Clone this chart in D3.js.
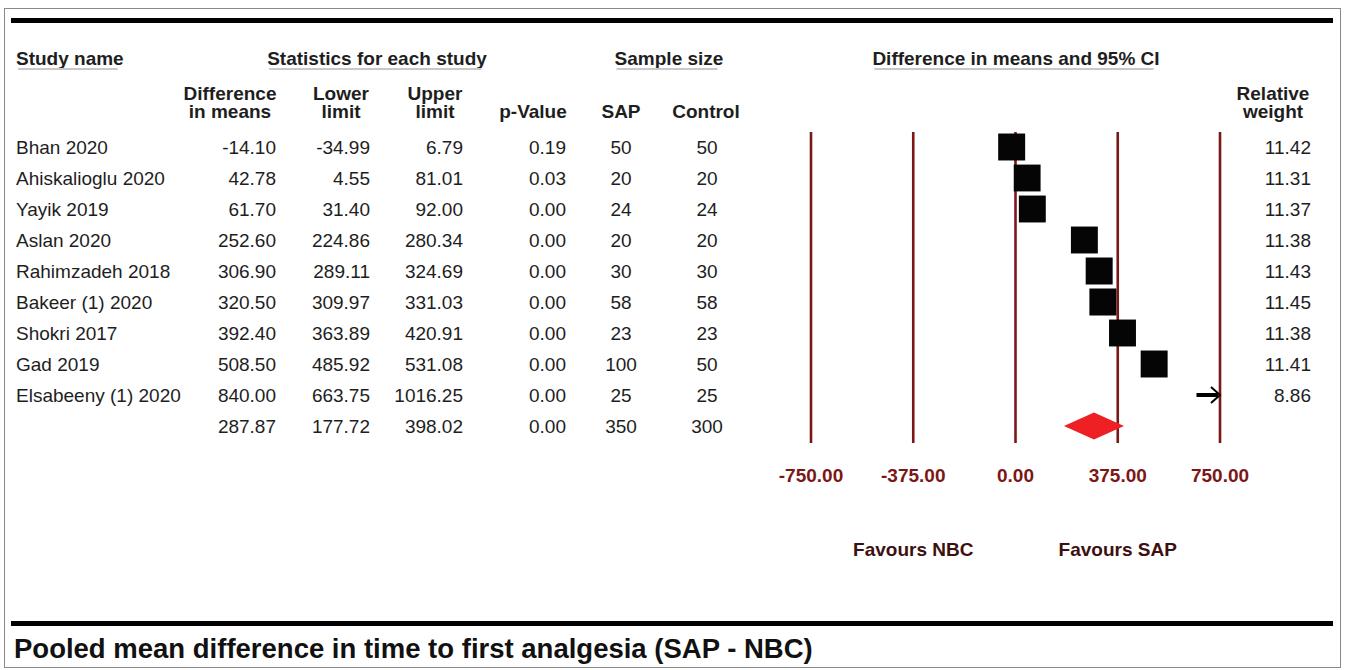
<!DOCTYPE html>
<html>
<head>
<meta charset="utf-8">
<script src="https://cdn.jsdelivr.net/npm/d3@7"></script>
<style>
  html, body { margin: 0; padding: 0; background: #fff; }
  svg { display: block; font-family: "Liberation Sans", Arial, sans-serif; }
</style>
</head>
<body>
<svg></svg>
<script>
const studies = ['Bhan 2020', 'Ahiskalioglu 2020', 'Yayik 2019', 'Aslan 2020', 'Rahimzadeh 2018',
	'Bakeer (1) 2020', 'Shokri 2017', 'Gad 2019', 'Elsabeeny (1) 2020'];
const diffs = [-14.10, 42.78, 61.70, 252.60, 306.90, 320.50, 392.40, 508.50, 840.00];
const lowers = [-34.99, 4.55, 31.40, 224.86, 289.11, 309.97, 363.89, 485.92, 663.75];
const uppers = [6.79, 81.01, 92.00, 280.34, 324.69, 331.03, 420.91, 531.08, 1016.25];
const pValues = [0.19, 0.03, 0.00, 0.00, 0.00, 0.00, 0.00, 0.00, 0.00];
const sapN = [50, 20, 24, 20, 30, 58, 23, 100, 25];
const controlN = [50, 20, 24, 20, 30, 58, 23, 50, 25];
const weights = [11.42, 11.31, 11.37, 11.38, 11.43, 11.45, 11.38, 11.41, 8.86];

const pooled = { diff: 287.87, lower: 177.72, upper: 398.02, p: 0.00, sap: 350, control: 300 };

const ticks = [-750, -375, 0, 375, 750];

const width = 1345;
const height = 670;

const svg = d3.select('svg')
	.attr('width', width)
	.attr('height', height);

const darkRed = '#7b1717';
const textCol = '#1e1e1e';
// plain hyphen for negatives, as in the source table
const fmt = v => v.toFixed(2);

// frame
svg.append('rect')
	.attr('x', 4.5).attr('y', 8.5)
	.attr('width', 1336).attr('height', 659)
	.attr('fill', 'none')
	.attr('stroke', '#8a8a8a')
	.attr('stroke-width', 1);

svg.append('rect')
	.attr('x', 11).attr('y', 18)
	.attr('width', 1322).attr('height', 5)
	.attr('fill', '#000');

svg.append('rect')
	.attr('x', 11).attr('y', 621)
	.attr('width', 1322).attr('height', 5)
	.attr('fill', '#000');

svg.append('text')
	.attr('x', 14).attr('y', 658)
	.attr('font-size', 27.5)
	.attr('font-weight', 'bold')
	.attr('fill', '#111')
	.text('Pooled mean difference in time to first analgesia (SAP - NBC)');

// scales
const x = d3.scaleLinear().domain([-750, 750]).range([811, 1220]);
const y = d3.scalePoint().domain(d3.range(studies.length + 1)).range([147, 426]);
const side = d3.scaleSqrt().domain([0, d3.max(weights)]).range([0, 27]);

// header row 1
const groupHeads = [
	{ t: 'Study name', x: 16, anchor: 'start' },
	{ t: 'Statistics for each study', x: 377, anchor: 'middle' },
	{ t: 'Sample size', x: 669, anchor: 'middle' },
	{ t: 'Difference in means and 95% CI', x: 1016, anchor: 'middle' }
];
groupHeads.forEach(h => {
	const t = svg.append('text')
		.attr('x', h.x).attr('y', 58)
		.attr('dy', '0.35em')
		.attr('text-anchor', h.anchor)
		.attr('font-size', 19)
		.attr('font-weight', 'bold')
		.attr('fill', textCol)
		.text(h.t);
	const bb = t.node().getBBox();
	svg.append('line')
		.attr('x1', bb.x + 2).attr('x2', bb.x + bb.width - 6)
		.attr('y1', 69).attr('y2', 69)
		.attr('stroke', '#c8c8c8')
		.attr('stroke-width', 2);
});

// header row 2
const colHeads = [
	{ lines: ['Difference', 'in means'], x: 230 },
	{ lines: ['Lower', 'limit'], x: 341 },
	{ lines: ['Upper', 'limit'], x: 435 },
	{ lines: ['p-Value'], x: 533 },
	{ lines: ['SAP'], x: 621 },
	{ lines: ['Control'], x: 706 },
	{ lines: ['Relative', 'weight'], x: 1273 }
];
colHeads.forEach(h => {
	const n = h.lines.length;
	const t = svg.append('text')
		.attr('x', h.x).attr('y', 111 - (n - 1) * 18)
		.attr('text-anchor', 'middle')
		.attr('font-size', 19)
		.attr('font-weight', 'bold')
		.attr('fill', textCol);
	h.lines.forEach((l, i) => {
		t.append('tspan')
			.attr('x', h.x)
			.attr('dy', i === 0 ? '0.35em' : 18)
			.text(l);
	});
});

// table body
const rows = studies.map((s, i) => ({
	name: s, diff: diffs[i], lower: lowers[i], upper: uppers[i],
	p: pValues[i], sap: sapN[i], control: controlN[i], w: weights[i], i
}));
const allRows = rows.concat([{ name: '', diff: pooled.diff, lower: pooled.lower, upper: pooled.upper,
	p: pooled.p, sap: pooled.sap, control: pooled.control, w: null, i: studies.length }]);

const cols = [
	{ f: d => d.name, x: 16, anchor: 'start' },
	{ f: d => fmt(d.diff), x: 276, anchor: 'end' },
	{ f: d => fmt(d.lower), x: 370, anchor: 'end' },
	{ f: d => fmt(d.upper), x: 463, anchor: 'end' },
	{ f: d => fmt(d.p), x: 566, anchor: 'end' },
	{ f: d => d.sap, x: 621, anchor: 'middle' },
	{ f: d => d.control, x: 707, anchor: 'middle' },
	{ f: d => d.w === null ? '' : fmt(d.w), x: 1311, anchor: 'end' }
];

const body = svg.append('g');
cols.forEach(c => {
	body.selectAll(null)
		.data(allRows.filter(d => c.f(d) !== ''))
		.enter()
		.append('text')
		.attr('x', c.x)
		.attr('y', d => y(d.i))
		.attr('dy', '0.35em')
		.attr('text-anchor', c.anchor)
		.attr('font-size', 19)
		.attr('fill', textCol)
		.text(c.f);
});

// plot: vertical lines at ticks
svg.selectAll('line.grid')
	.data(ticks)
	.enter()
	.append('line')
	.attr('class', 'grid')
	.attr('x1', d => x(d)).attr('x2', d => x(d))
	.attr('y1', 132).attr('y2', 443)
	.attr('stroke', darkRed)
	.attr('stroke-width', 2.6);

svg.selectAll('text.tick')
	.data(ticks)
	.enter()
	.append('text')
	.attr('class', 'tick')
	.attr('x', d => x(d))
	.attr('y', 475)
	.attr('dy', '0.35em')
	.attr('text-anchor', 'middle')
	.attr('font-size', 19)
	.attr('font-weight', 'bold')
	.attr('fill', darkRed)
	.text(d => fmt(d));

svg.append('text')
	.attr('x', x(-375)).attr('y', 549).attr('dy', '0.35em')
	.attr('text-anchor', 'middle')
	.attr('font-size', 19).attr('font-weight', 'bold')
	.attr('fill', '#3d1010')
	.text('Favours NBC');

svg.append('text')
	.attr('x', x(375)).attr('y', 549).attr('dy', '0.35em')
	.attr('text-anchor', 'middle')
	.attr('font-size', 19).attr('font-weight', 'bold')
	.attr('fill', '#3d1010')
	.text('Favours SAP');

// studies inside the domain: CI line + square
const [xmin, xmax] = x.domain();
const inside = rows.filter(d => d.diff <= xmax && d.diff >= xmin);
const outside = rows.filter(d => d.diff > xmax);

svg.selectAll('line.ci')
	.data(inside)
	.enter()
	.append('line')
	.attr('class', 'ci')
	.attr('x1', d => x(Math.max(d.lower, xmin)))
	.attr('x2', d => x(Math.min(d.upper, xmax)))
	.attr('y1', d => y(d.i)).attr('y2', d => y(d.i))
	.attr('stroke', '#000')
	.attr('stroke-width', 2);

svg.selectAll('rect.sq')
	.data(inside)
	.enter()
	.append('rect')
	.attr('class', 'sq')
	.attr('x', d => x(d.diff) - side(d.w) / 2)
	.attr('y', d => y(d.i) - side(d.w) / 2)
	.attr('width', d => side(d.w))
	.attr('height', d => side(d.w))
	.attr('fill', '#050505');

// estimates beyond the axis: arrow from lower limit to the edge
outside.forEach(d => {
	const yy = y(d.i);
	const x0 = x(d.lower);
	const x1 = x(xmax);
	svg.append('line')
		.attr('x1', x0).attr('x2', x1 - 2)
		.attr('y1', yy).attr('y2', yy)
		.attr('stroke', '#000')
		.attr('stroke-width', 4);
	svg.append('path')
		.attr('d', `M${x1 - 9},${yy - 8} L${x1},${yy} L${x1 - 9},${yy + 8}`)
		.attr('fill', 'none')
		.attr('stroke', '#000')
		.attr('stroke-width', 2);
});

// pooled diamond
const py = y(studies.length);
svg.append('path')
	.attr('d', `M${x(pooled.lower)},${py} L${x(pooled.diff)},${py - 13.5} L${x(pooled.upper)},${py} L${x(pooled.diff)},${py + 13.5} Z`)
	.attr('fill', '#ee2024');
</script>
</body>
</html>
